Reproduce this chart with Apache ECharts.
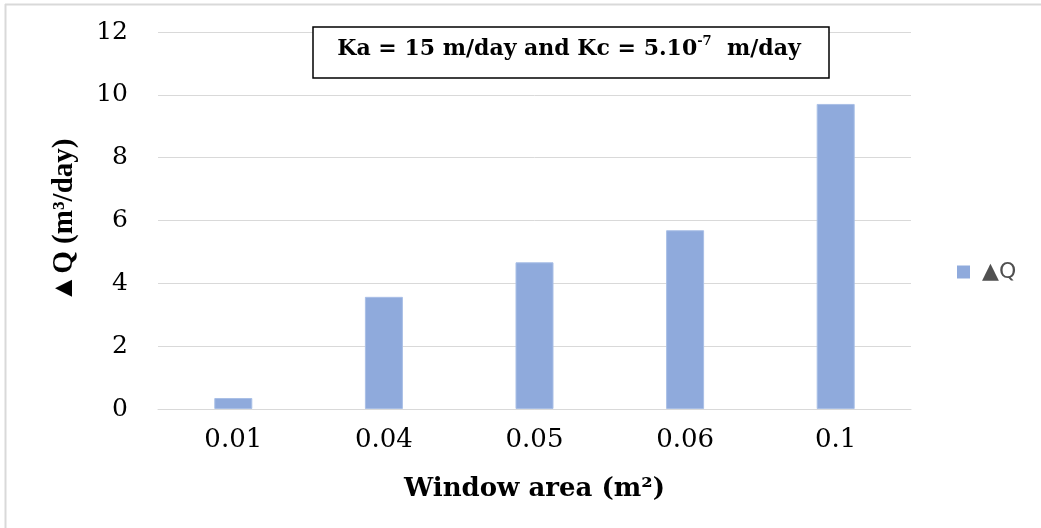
<!DOCTYPE html>
<html>
<head>
<meta charset="utf-8">
<style>
  html, body { margin: 0; padding: 0; background: #fff; }
  #chart { width: 1041px; height: 528px; }
</style>
<script src="https://cdn.jsdelivr.net/npm/echarts@6/dist/echarts.min.js"></script>
</head>
<body>
<div id="chart"></div>
<script>
// Window area categories (m²) and flow increase ΔQ (m³/day)
const windowAreas = ['0.01', '0.04', '0.05', '0.06', '0.1'];
const deltaQ = [0.35, 3.57, 4.67, 5.69, 9.71];
const seriesName = '▲Q';

const wideSerif = '"DejaVu Serif", serif';
const serif = '"Liberation Serif", "Times New Roman", serif';

const chart = echarts.init(document.getElementById('chart'));
chart.setOption({
  backgroundColor: '#fff',
  animation: false,
  grid: { left: 158, right: 130, top: 32, bottom: 119 },
  legend: {
    data: [seriesName],
    left: 952,
    top: 256,
    icon: 'rect',
    itemWidth: 13,
    itemHeight: 13,
    itemGap: 6,
    itemStyle: { borderWidth: 0 },
    textStyle: {
      color: '#505050', fontSize: 22, fontFamily: '"DejaVu Sans", sans-serif',
      padding: [0, 0, 0, 7]
    }
  },
  xAxis: {
    type: 'category',
    data: windowAreas,
    name: 'Window area (m²)',
    nameLocation: 'middle',
    nameGap: 67,
    nameTextStyle: { fontFamily: wideSerif, fontWeight: 'bold', fontSize: 26, color: '#000' },
    axisLine: { show: true, lineStyle: { color: '#d9d9d9', width: 1 } },
    axisTick: { show: false },
    axisLabel: { fontFamily: wideSerif, fontSize: 26, color: '#000', margin: 18 }
  },
  yAxis: {
    type: 'value',
    min: 0,
    max: 12,
    interval: 2,
    name: '▲Q (m³/day)',
    nameLocation: 'middle',
    nameRotate: 90,
    nameGap: 79,
    nameTextStyle: { fontFamily: serif, fontWeight: 'bold', fontSize: 29, color: '#000' },
    axisLine: { show: false },
    axisTick: { show: false },
    axisLabel: { fontFamily: wideSerif, fontSize: 25, color: '#000', margin: 30 },
    splitLine: { lineStyle: { color: '#d9d9d9', width: 1 } }
  },
  series: [{
    name: seriesName,
    type: 'bar',
    data: deltaQ,
    barWidth: 38,
    itemStyle: { color: '#8faadc', borderColor: '#a9bfe6', borderWidth: 1 }
  }],
  graphic: [
    // light frame on the top and left edges
    { type: 'line', shape: { x1: 5, y1: 4.5, x2: 1041, y2: 4.5 }, style: { stroke: '#d9d9d9', lineWidth: 2 } },
    { type: 'line', shape: { x1: 5.5, y1: 4, x2: 5.5, y2: 528 }, style: { stroke: '#d9d9d9', lineWidth: 2 } },
    // parameter box
    {
      type: 'rect',
      shape: { x: 313, y: 27, width: 516, height: 51 },
      style: { fill: '#fff', stroke: '#000', lineWidth: 1.5 },
      z: 10
    },
    {
      type: 'text',
      x: 569,
      y: 49,
      z: 11,
      style: {
        text: '{t|Ka = 15 m/day and Kc = 5.10}{s|-7}{t|  m/day}',
        align: 'center',
        verticalAlign: 'middle',
        rich: {
          t: { fontFamily: wideSerif, fontWeight: 'bold', fontSize: 22, fill: '#000', lineHeight: 28 },
          s: { fontFamily: wideSerif, fontWeight: 'bold', fontSize: 13, fill: '#000', verticalAlign: 'top', padding: [0, 0, 12, 0] }
        }
      }
    }
  ]
});
</script>
</body>
</html>
